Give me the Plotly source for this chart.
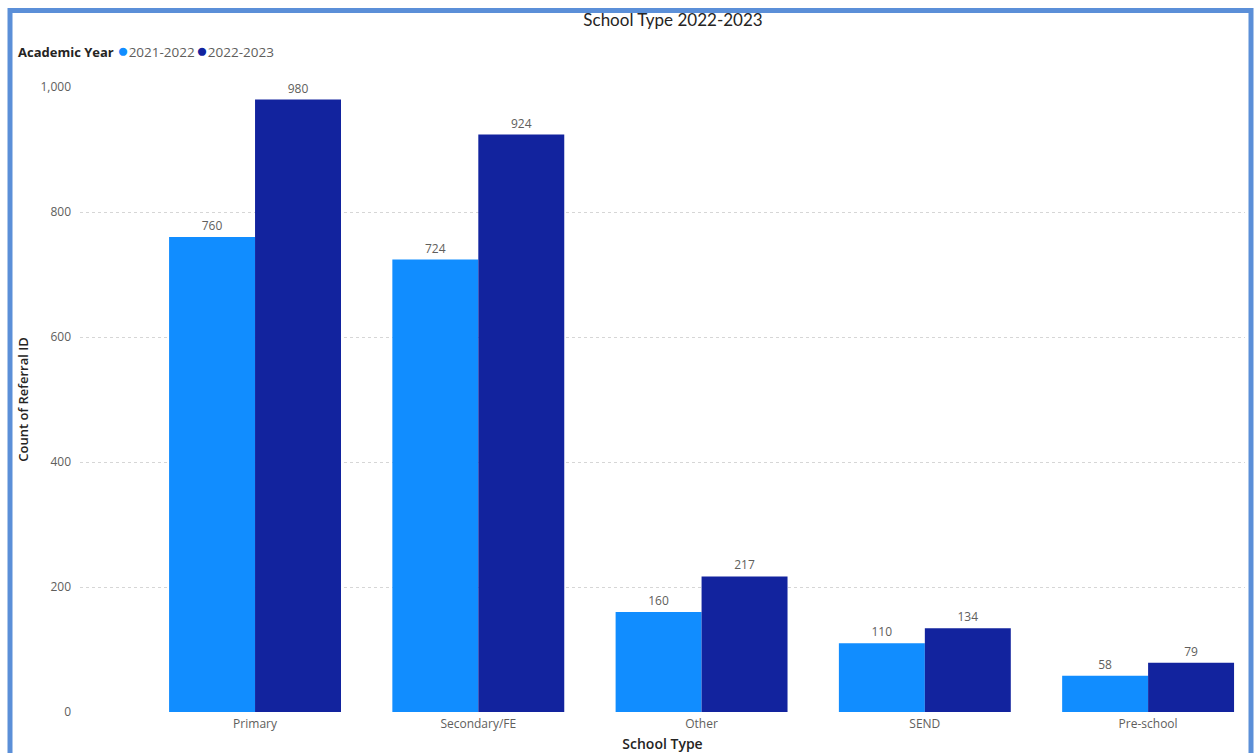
import plotly.graph_objects as go

# Referral counts by school type, per academic year
school_types = ["Primary", "Secondary/FE", "Other", "SEND", "Pre-school"]
years = ["2021-2022", "2022-2023"]
referrals_2021_22 = [760, 724, 160, 110, 58]
referrals_2022_23 = [980, 924, 217, 134, 79]
y_ticks = [0, 200, 400, 600, 800, 1000]
y_tick_labels = ["0", "200", "400", "600", "800", "1,000"]
colors = ["#118DFF", "#12239E"]

W, H = 1255, 753
L, R, T, B = 80, 10, 87, 41
pw, ph = W - L - R, H - T - B

def px_x(x):
    return (x - L) / pw

def px_y(y):
    return 1 - (y - T) / ph

FONT = "Segoe UI, Open Sans, Noto Sans, sans-serif"
label_font = dict(family=FONT, size=12, color="#605E5C")

fig = go.Figure()
for name, values, color in zip(years, [referrals_2021_22, referrals_2022_23], colors):
    fig.add_trace(go.Bar(
        name=name, x=school_types, y=values,
        marker=dict(color=color, line=dict(width=0)),
        text=values, textposition="outside", cliponaxis=False,
        textfont=label_font, showlegend=False,
    ))

# Compact legend line: bold title followed by coloured dots and year names
legend_parts = ["<b>Academic Year</b> "]
for name, color in zip(years, colors):
    legend_parts.append(
        f"<span style='color:{color};font-size:19px'>\u25CF</span>"
        f"<span style='font-size:13.5px;color:#605E5C'>{name}</span>"
        "<span style='font-size:6px'> </span>"
    )
fig.add_annotation(
    text="".join(legend_parts), xref="paper", yref="paper",
    x=px_x(16), xanchor="left", y=px_y(50), yanchor="middle",
    showarrow=False, font=dict(family=FONT, size=13, color="#252423"),
)

fig.update_layout(
    width=W, height=H,
    margin=dict(l=L, r=R, t=T, b=B, autoexpand=False),
    paper_bgcolor="white", plot_bgcolor="white",
    barmode="group", bargap=0.23, bargroupgap=0,
    font=dict(family=FONT, color="#605E5C"),
    title=dict(
        text="School Type 2022-2023", x=px_x(673), xref="paper", xanchor="center",
        y=1 - 20 / H, yanchor="middle", yref="container",
        font=dict(family="Lato, Segoe UI, sans-serif", size=17, color="#252423"),
    ),
    showlegend=False,
    xaxis=dict(
        range=[-0.784, 4.434], showgrid=False, zeroline=False, showline=False,
        ticks="", ticklabelstandoff=3,
        tickfont=dict(family=FONT, size=12, color="#605E5C"),
        title=dict(text="School Type", standoff=8,
                   font=dict(family=FONT, size=14, color="#252423", weight=600)),
    ),
    yaxis=dict(
        range=[0, 1000], tickvals=y_ticks, ticktext=y_tick_labels,
        showgrid=True, gridcolor="#D6D6D6", griddash="dot", gridwidth=1,
        zeroline=False, showline=False, ticks="", ticklen=0, ticklabelstandoff=8,
        tickfont=dict(family=FONT, size=12, color="#605E5C"),
        title=dict(text="Count of Referral ID", standoff=8,
                   font=dict(family=FONT, size=13, color="#252423", weight=600)),
    ),
)

# Blue frame around the visual
fig.add_shape(
    type="rect", xref="paper", yref="paper",
    x0=px_x(10), x1=px_x(1251), y0=px_y(780), y1=px_y(10.5),
    line=dict(color="#5B8FD8", width=5), fillcolor="rgba(0,0,0,0)", layer="above",
)

fig.write_html("out.html")
